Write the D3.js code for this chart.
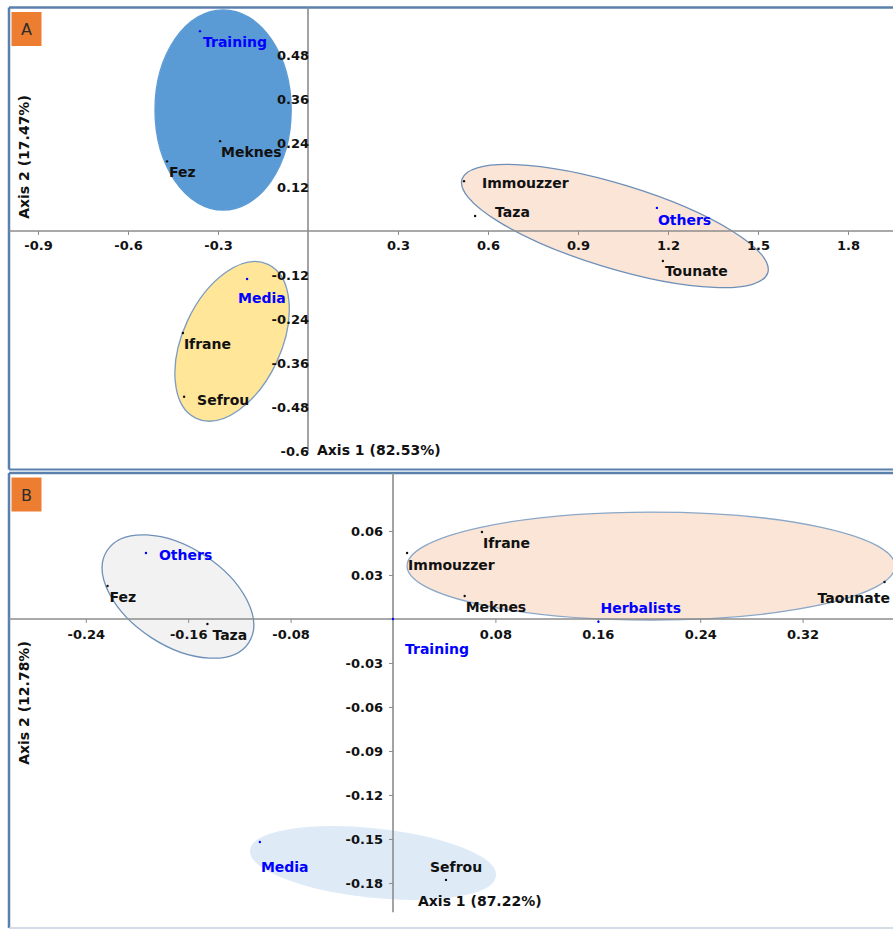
<!DOCTYPE html>
<html>
<head>
<meta charset="utf-8">
<script src="https://cdn.jsdelivr.net/npm/d3@7"></script>
<style>
  body { margin: 0; background: #fff; }
  svg text { font-family: "DejaVu Sans", sans-serif; font-weight: bold; }
</style>
</head>
<body>
<div id="vis"></div>
<script>

// Panel A data (axis 1 = 82.53%, axis 2 = 17.47%)
var namesA = ['Training', 'Meknes', 'Fez', 'Immouzzer', 'Taza', 'Others', 'Tounate', 'Media', 'Ifrane', 'Sefrou'];
var xA = [-0.36, -0.293, -0.47, 0.52, 0.557, 1.163, 1.183, -0.203, -0.417, -0.413];
var yA = [0.545, 0.245, 0.19, 0.136, 0.041, 0.063, -0.082, -0.131, -0.278, -0.452];
var kindA = ['var', 'site', 'site', 'site', 'site', 'var', 'site', 'var', 'site', 'site'];

var ellCxA = [-0.283, 1.023, -0.253];
var ellCyA = [0.33, 0.0136, -0.301];
var ellRxA = [0.227, 0.533, 0.283];
var ellRyA = [0.273, 0.1145, 0.134];
var ellAngA = [0, 17, -65];

var xTicksA = [-0.9, -0.6, -0.3, 0.3, 0.6, 0.9, 1.2, 1.5, 1.8];
var yTicksA = [0.48, 0.36, 0.24, 0.12, -0.12, -0.24, -0.36, -0.48, -0.6];

// Panel B data (axis 1 = 87.22%, axis 2 = 12.78%)
var namesB = ['Others', 'Fez', 'Taza', 'Immouzzer', 'Ifrane', 'Meknes', 'Herbalists', 'Training', 'Taounate', 'Media', 'Sefrou'];
var xB = [-0.193, -0.223, -0.145, 0.011, 0.0695, 0.056, 0.1605, 0.0, 0.384, -0.104, 0.0414];
var yB = [0.045, 0.0225, -0.0034, 0.045, 0.0593, 0.0157, -0.0019, 0.0, 0.0252, -0.1521, -0.1779];
var kindB = ['var', 'site', 'site', 'site', 'site', 'site', 'var', 'var', 'site', 'var', 'site'];

var ellCxB = [-0.168, 0.2016, -0.0156];
var ellCyB = [0.0153, 0.0361, -0.1664];
var ellRxB = [0.066, 0.1906, 0.0961];
var ellRyB = [0.0334, 0.0368, 0.0232];
var ellAngB = [33, 0, 6];

var xTicksB = [-0.24, -0.16, -0.08, 0.08, 0.16, 0.24, 0.32];
var yTicksB = [0.06, 0.03, -0.03, -0.06, -0.09, -0.12, -0.15, -0.18];

//________________________________________________
// layout / styling (not data)
//________________________________________________
var W = 893, H = 930;
var blue = '#0000ff';

var svg = d3.select('#vis').append('svg')
    .attr('width', W)
    .attr('height', H);

var panels = [
    {
        letter: 'A', top: 7.5, bottom: 469.5,
        names: namesA, xs: xA, ys: yA, kinds: kindA,
        dx: [3, 1, 2, 18, 20, 1, 2, -9, 1, 13],
        dy: [16, 16, 16, 7, 1, 17, 15, 24, 16, 8],
        ell: { cx: ellCxA, cy: ellCyA, rx: ellRxA, ry: ellRyA, ang: ellAngA,
               fill: ['#5b9bd5', '#fbe5d6', '#ffe699'],
               stroke: ['#5b9bd5', '#6d8fb8', '#7d9cc0'] },
        xTicks: xTicksA, yTicks: yTicksA,
        xDomain: [-1, 1.95], xRange: [8, 893],
        yDomain: [0.6, -0.6], yRange: [11, 451],
        yTickSize: 3, yTickPad: -4, xTickSize: 4, xTickPad: 6,
        xTitle: 'Axis 1 (82.53%)', xTitlePos: [9, 4],
        yTitle: 'Axis 2 (17.47%)', yTitleMid: 157
    },
    {
        letter: 'B', top: 473, bottom: 928,
        names: namesB, xs: xB, ys: yB, kinds: kindB,
        dx: [13, 2, 5, 1, 1, 1, 2, 12, -67, 1, -16],
        dy: [7, 16, 16, 17, 16, 16, -9, 35, 21, 30, -8],
        ell: { cx: ellCxB, cy: ellCyB, rx: ellRxB, ry: ellRyB, ang: ellAngB,
               fill: ['#f2f2f2', '#fbe5d6', '#deebf7'],
               stroke: ['#6d8fb8', '#8aa7c8', '#deebf7'] },
        xTicks: xTicksB, yTicks: yTicksB,
        xDomain: [-0.3, 0.39], xRange: [9, 892.2],
        yDomain: [0.1, -0.2], yRange: [472.3, 912.3],
        yTickSize: 4, yTickPad: 6, xTickSize: 4, xTickPad: 7,
        xTitle: 'Axis 1 (87.22%)', xTitlePos: [25, -6],
        yTitle: 'Axis 2 (12.78%)', yTitleMid: 703
    }
];

panels.forEach(drawPanel);

function drawPanel(p) {
    var g = svg.append('g').attr('class', 'panel-' + p.letter);

    var x = d3.scaleLinear().domain(p.xDomain).range(p.xRange);
    var y = d3.scaleLinear().domain(p.yDomain).range(p.yRange);

    // frame
    g.append('line')
        .attr('x1', 9).attr('x2', W + 5)
        .attr('y1', p.top).attr('y2', p.top)
        .attr('stroke', '#5a80ad').attr('stroke-width', 2.5);
    g.append('line')
        .attr('x1', 9).attr('x2', 9)
        .attr('y1', p.top).attr('y2', p.bottom)
        .attr('stroke', '#5a80ad').attr('stroke-width', 2.5);
    g.append('line')
        .attr('x1', 9).attr('x2', W + 5)
        .attr('y1', p.bottom).attr('y2', p.bottom)
        .attr('stroke', p.letter === 'A' ? '#5a80ad' : '#c3d1e2')
        .attr('stroke-width', p.letter === 'A' ? 2 : 1.5);

    // ellipses
    var e = p.ell;
    g.append('g').selectAll('ellipse')
        .data(e.cx.map(function (d, i) { return i; }))
        .enter()
        .append('ellipse')
        .attr('cx', function (i) { return x(e.cx[i]); })
        .attr('cy', function (i) { return y(e.cy[i]); })
        .attr('rx', function (i) { return x(e.cx[i] + e.rx[i]) - x(e.cx[i]); })
        .attr('ry', function (i) { return y(e.cy[i] - e.ry[i]) - y(e.cy[i]); })
        .attr('transform', function (i) {
            return 'rotate(' + e.ang[i] + ',' + x(e.cx[i]) + ',' + y(e.cy[i]) + ')';
        })
        .style('fill', function (i) { return e.fill[i]; })
        .style('stroke', function (i) { return e.stroke[i]; })
        .style('stroke-width', 1.3);

    // axis lines through the origin
    g.append('line')
        .attr('x1', 9).attr('x2', W)
        .attr('y1', y(0)).attr('y2', y(0))
        .attr('stroke', '#8c8c8c').attr('stroke-width', 1.6);
    g.append('line')
        .attr('x1', x(0)).attr('x2', x(0))
        .attr('y1', p.top).attr('y2', y(p.yDomain[1]))
        .attr('stroke', '#8c8c8c').attr('stroke-width', 1.6);

    var xAxis = g.append('g')
        .attr('transform', 'translate(0,' + y(0) + ')')
        .call(d3.axisBottom(x)
            .tickValues(p.xTicks)
            .tickFormat(function (d) { return String(d); })
            .tickSize(p.xTickSize)
            .tickPadding(p.xTickPad));
    var yAxis = g.append('g')
        .attr('transform', 'translate(' + x(0) + ',0)')
        .call(d3.axisLeft(y)
            .tickValues(p.yTicks)
            .tickFormat(function (d) { return String(d); })
            .tickSize(p.yTickSize)
            .tickPadding(p.yTickPad));

    [xAxis, yAxis].forEach(function (a) {
        a.select('.domain').remove();
        a.selectAll('.tick line').attr('stroke', '#8c8c8c');
        a.selectAll('.tick text')
            .attr('fill', '#111')
            .style('font-size', '13px');
    });

    // points
    g.append('g').selectAll('circle')
        .data(p.names.map(function (d, i) { return i; }))
        .enter()
        .append('circle')
        .attr('cx', function (i) { return x(p.xs[i]); })
        .attr('cy', function (i) { return y(p.ys[i]); })
        .attr('r', 1.2)
        .style('fill', function (i) { return p.kinds[i] === 'var' ? blue : '#111'; });

    // labels
    g.append('g').selectAll('text')
        .data(p.names.map(function (d, i) { return i; }))
        .enter()
        .append('text')
        .attr('x', function (i) { return x(p.xs[i]) + p.dx[i]; })
        .attr('y', function (i) { return y(p.ys[i]) + p.dy[i]; })
        .style('font-size', '14px')
        .style('fill', function (i) { return p.kinds[i] === 'var' ? blue : '#111'; })
        .text(function (i) { return p.names[i]; });

    // axis titles
    g.append('text')
        .attr('x', x(0) + p.xTitlePos[0])
        .attr('y', y(p.yDomain[1]) + p.xTitlePos[1])
        .style('font-size', '14px')
        .style('fill', '#111')
        .text(p.xTitle);
    g.append('text')
        .attr('transform', 'translate(29,' + p.yTitleMid + ') rotate(-90)')
        .attr('text-anchor', 'middle')
        .style('font-size', '14px')
        .style('fill', '#111')
        .text(p.yTitle);

    // panel letter
    g.append('rect')
        .attr('x', 11.5).attr('y', p.top + 4.5)
        .attr('width', 30).attr('height', 34)
        .style('fill', '#ed7d31');
    g.append('text')
        .attr('x', 26.5).attr('y', p.top + 27.5)
        .attr('text-anchor', 'middle')
        .style('font-size', '16px')
        .style('font-weight', 'normal')
        .style('fill', '#2b2b2b')
        .text(p.letter);
}
</script>
</body>
</html>
